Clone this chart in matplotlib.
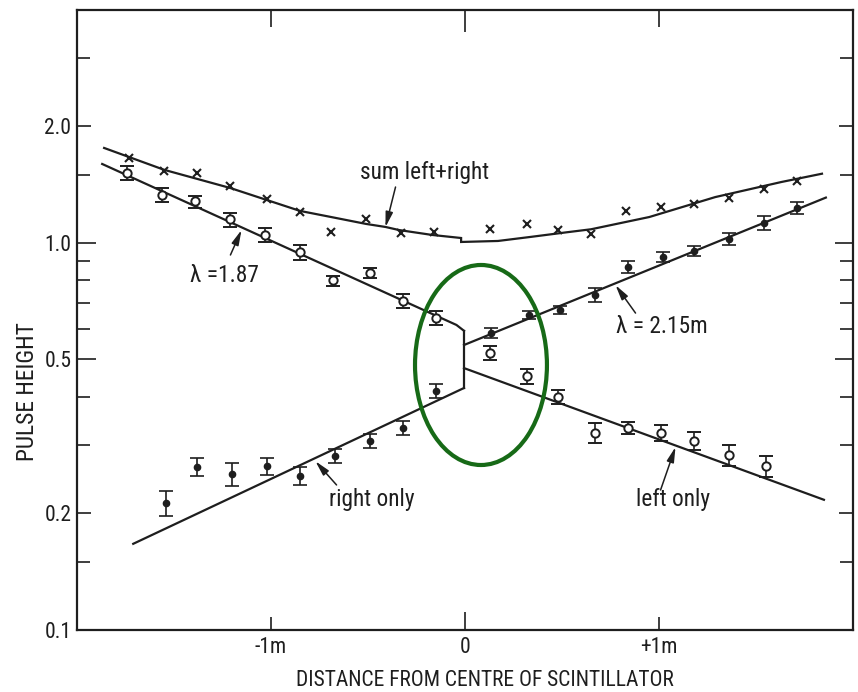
import matplotlib
matplotlib.use("Agg")
import matplotlib.pyplot as plt
from matplotlib import font_manager
from matplotlib.patches import Ellipse

# prefer a narrow face for the lettering, otherwise an Arial-like one
installed = {(f.name, f.stretch) for f in font_manager.fontManager.ttflist}
names = {n for n, _ in installed}
narrow = True
if 'Liberation Sans Narrow' in names:
    plt.rcParams['font.family'] = ['Liberation Sans Narrow', 'DejaVu Sans']
elif 'Roboto Condensed' in names:
    plt.rcParams['font.family'] = ['Roboto Condensed', 'DejaVu Sans']
elif ('DejaVu Sans', 'condensed') in installed:
    plt.rcParams['font.family'] = ['DejaVu Sans']
    plt.rcParams['font.stretch'] = 'condensed'
else:
    plt.rcParams['font.family'] = ['Liberation Sans', 'DejaVu Sans']
    narrow = False
fs = 1.2 if narrow else 1.0

INK = '#1e1e1e'
GREEN = '#176a17'

# pulse height summed over both tubes (crosses)
sum_pts_x = [-1.73, -1.55, -1.38, -1.21, -1.02, -0.85, -0.69, -0.51, -0.33, -0.16,
             0.13, 0.32, 0.48, 0.65, 0.83, 1.01, 1.18, 1.36, 1.54, 1.71]
sum_pts_y = [1.66, 1.535, 1.52, 1.40, 1.30, 1.20, 1.07, 1.15, 1.06, 1.07,
             1.087, 1.12, 1.08, 1.055, 1.21, 1.24, 1.26, 1.31, 1.38, 1.45]

# left tube only (open circles)
left_x = [-1.74, -1.56, -1.39, -1.21, -1.03, -0.85, -0.68, -0.49, -0.32, -0.15,
          0.13, 0.32, 0.48, 0.67, 0.84, 1.01, 1.18, 1.36, 1.55]
left_y = [1.52, 1.33, 1.28, 1.15, 1.05, 0.948, 0.80, 0.837, 0.71, 0.64,
          0.52, 0.453, 0.40, 0.323, 0.333, 0.323, 0.308, 0.283, 0.265]
left_err = [0.063, 0.055, 0.046, 0.048, 0.044, 0.042, 0.024, 0.025, 0.030, 0.027,
            0.023, 0.020, 0.017, 0.019, 0.012, 0.015, 0.016, 0.017, 0.017]

# right tube only (filled circles)
right_x = [-1.54, -1.38, -1.20, -1.02, -0.85, -0.67, -0.49, -0.32, -0.15,
           0.136, 0.33, 0.49, 0.67, 0.84, 1.02, 1.18, 1.36, 1.54, 1.71]
right_y = [0.213, 0.264, 0.253, 0.265, 0.250, 0.282, 0.308, 0.333, 0.415,
           0.585, 0.652, 0.671, 0.735, 0.867, 0.92, 0.953, 1.024, 1.127, 1.231]
right_err = [0.016, 0.014, 0.017, 0.013, 0.013, 0.012, 0.013, 0.014, 0.017,
             0.017, 0.016, 0.016, 0.031, 0.031, 0.027, 0.028, 0.037, 0.047, 0.044]

# fitted attenuation curves
fit_left_a_x = [-1.87, -0.044, -0.005]
fit_left_a_y = [1.60, 0.614, 0.593]
fit_join_x = [-0.005, -0.005]
fit_join_y = [0.593, 0.422]
fit_right_a_x = [-0.005, -1.71]
fit_right_a_y = [0.422, 0.167]
fit_right_b_x = [-0.005, 1.86]
fit_right_b_y = [0.545, 1.31]
fit_left_b_x = [-0.005, 1.85]
fit_left_b_y = [0.475, 0.217]

sum_curve_x = [-1.86, -1.55, -1.21, -0.85, -0.69, -0.51, -0.41, -0.34, -0.17, -0.02,
               -0.02, 0.17, 0.34, 0.52, 0.65, 0.95, 1.29, 1.63, 1.84]
sum_curve_y = [1.76, 1.545, 1.387, 1.21, 1.167, 1.12, 1.10, 1.08, 1.049, 1.03,
               1.006, 1.012, 1.037, 1.065, 1.085, 1.167, 1.314, 1.437, 1.51]

y_major = [0.1, 0.2, 0.5, 1.0, 2.0]
y_major_labels = ['0.1', '0.2', '0.5', '1.0', '2.0']
y_minor = [0.15, 0.3, 0.4, 0.6, 0.7, 0.8, 0.9, 1.5, 3.0]
x_major = [-1, 0, 1]
x_major_labels = ['-1m', '0', '+1m']

fig = plt.figure(figsize=(8.58, 6.92), dpi=100)
ax = fig.add_axes([0.0897, 0.0896, 0.9045, 0.896])
ax.set_yscale('log')
ax.set_xlim(-2.0, 2.0)
ax.set_ylim(0.1, 4.0)

line_kw = dict(color=INK, lw=1.6, solid_joinstyle='miter', zorder=2)
ax.plot(fit_left_a_x, fit_left_a_y, **line_kw)
ax.plot(fit_join_x, fit_join_y, **line_kw)
ax.plot(fit_right_a_x, fit_right_a_y, **line_kw)
ax.plot(fit_right_b_x, fit_right_b_y, **line_kw)
ax.plot(fit_left_b_x, fit_left_b_y, **line_kw)
ax.plot(sum_curve_x, sum_curve_y, **line_kw)

ax.errorbar(left_x, left_y, yerr=left_err, fmt='o', ms=6, mfc='white', mec=INK,
            mew=1.4, ecolor=INK, elinewidth=1.2, capsize=5, capthick=1.2, zorder=3)
ax.errorbar(right_x, right_y, yerr=right_err, fmt='o', ms=4.5, mfc=INK, mec=INK,
            ecolor=INK, elinewidth=1.2, capsize=5, capthick=1.2, zorder=3)
ax.plot(sum_pts_x, sum_pts_y, 'x', ms=5.5, mew=1.5, color=INK, zorder=3)

# labels with arrows pointing at the curves
arrow = dict(arrowstyle='-|>,head_length=0.9,head_width=0.22', color=INK, lw=1.1,
             shrinkA=0, shrinkB=0)
txt = dict(fontsize=14 * fs, color=INK, ha='center', va='center')

ax.annotate('', xy=(-0.41, 1.099), xytext=(-0.358, 1.395), arrowprops=arrow)
ax.text(-0.209, 1.517, 'sum left+right', **txt)

ax.annotate('', xy=(-1.152, 1.08), xytext=(-1.209, 0.931), arrowprops=arrow)
ax.text(-1.24, 0.826, '\u03bb =1.87', **txt)

ax.annotate('', xy=(0.776, 0.778), xytext=(0.879, 0.659), arrowprops=arrow)
ax.text(1.013, 0.607, '\u03bb = 2.15m', **txt)

ax.annotate('', xy=(-0.771, 0.273), xytext=(-0.662, 0.237), arrowprops=arrow)
ax.text(-0.479, 0.217, 'right only', **txt)

ax.annotate('', xy=(1.085, 0.297), xytext=(1.008, 0.230), arrowprops=arrow)
ax.text(1.075, 0.217, 'left only', **txt)

# ring around the centre discontinuity
ax.add_patch(Ellipse((0.5206, 0.4274), 0.170, 0.3226, transform=ax.transAxes,
                     fill=False, ec=GREEN, lw=3, zorder=4))

ax.set_yticks(y_major, y_major_labels)
ax.set_yticks(y_minor, minor=True)
ax.yaxis.set_minor_formatter(plt.NullFormatter())
ax.set_xticks(x_major, x_major_labels)
ax.tick_params(which='both', direction='in', top=True, right=True, color=INK,
               width=1.2, labelsize=15.5, labelcolor=INK)
ax.tick_params(which='major', length=10, pad=4)
ax.tick_params(which='minor', length=9.5)
ax.tick_params(axis='x', which='major', top=True, length=9.5, pad=5)
for t in ax.xaxis.get_major_ticks():
    t.tick2line.set_markersize(12.5)
zero_tick = ax.xaxis.get_major_ticks()[1]
zero_tick.tick1line.set_markersize(13)
zero_tick.tick2line.set_markersize(16)
for t in ax.yaxis.get_major_ticks()[2:4]:
    t.tick1line.set_markersize(13.5)
    t.tick2line.set_markersize(13)

for sp in ax.spines.values():
    sp.set_color(INK)
    sp.set_linewidth(1.6)

ax.set_ylabel('PULSE HEIGHT', fontsize=14 * fs, color=INK)
ax.yaxis.label.set_va('center')
ax.yaxis.set_label_coords(-0.064, 0.384)
ax.set_xlabel('DISTANCE FROM CENTRE OF SCINTILLATOR', fontsize=15.5, color=INK)
ax.xaxis.label.set_va('center')
ax.xaxis.set_label_coords(0.526, -0.081)

fig.savefig('out.png', dpi=100)
